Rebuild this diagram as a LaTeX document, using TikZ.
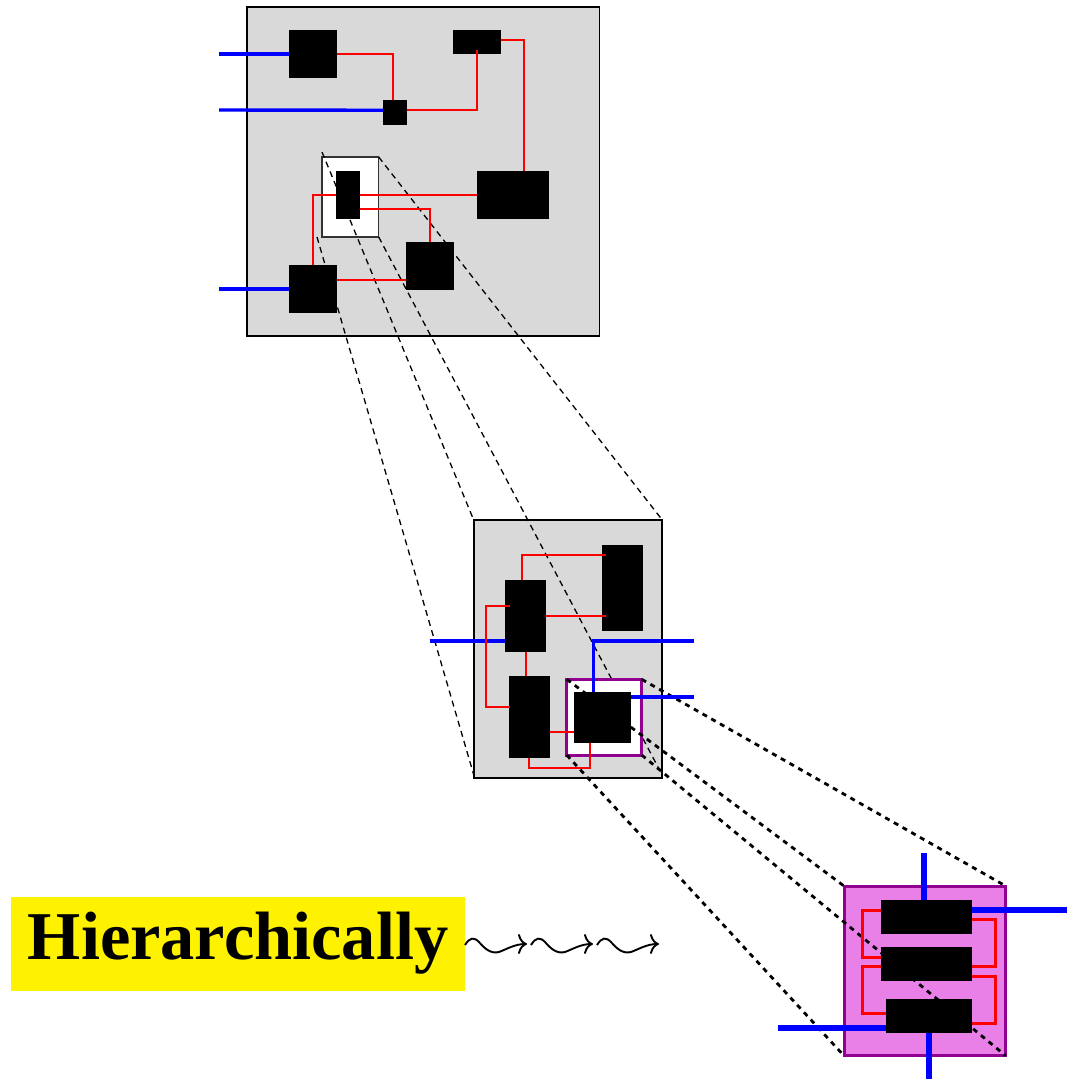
\documentclass[tikz,border=0pt]{standalone}
\usepackage{fontspec}
\setmainfont{Liberation Serif}
\usetikzlibrary{fit,arrows.meta}
\definecolor{panel}{RGB}{217,217,217}
\definecolor{hiyellow}{RGB}{255,242,0}
\definecolor{deeppurple}{RGB}{145,0,145}
\definecolor{pinkfill}{RGB}{232,128,232}
\pgfdeclarelayer{panels}
\pgfdeclarelayer{thindash}
\pgfdeclarelayer{inset}
\pgfdeclarelayer{thickdash}
\pgfdeclarelayer{underwire}
\pgfsetlayers{panels,thindash,inset,thickdash,underwire,main}
\tikzset{
  area/.style={inner sep=0pt,outer sep=0pt,rectangle},
  chip/.style={area,fill=black},
  panelbox/.style={area,draw=black,line width=1.7pt,fill=panel},
  wbox/.style={area,draw=black!80,line width=1.2pt,fill=white},
  purplebox/.style={area,draw=deeppurple,line width=3pt,fill=white},
  pinkbox/.style={area,draw=deeppurple,line width=3pt,fill=pinkfill},
  wire/.style={red,line width=1.8pt},
  fatwire/.style={red,line width=3pt},
  bus/.style={blue,line width=3.4pt},
  fatbus/.style={blue,line width=6pt},
  thinzoom/.style={black,line width=1.3pt,dash pattern=on 6pt off 4.5pt},
  thickzoom/.style={black,line width=2.8pt,dash pattern=on 5pt off 5pt},
  squig/.style={black,line width=1.9pt,-{Computer Modern Rightarrow[length=9pt,width=20pt]}}
}
\begin{document}
\begin{tikzpicture}[x=1pt,y=-1pt]
\useasboundingbox (0,0) rectangle (1067,1080);
% ---- top level
\begin{pgfonlayer}{panels}
  \node[panelbox,fit={(246.7,6.7)(599.5,335.7)}] (top) {};
  \node[wbox,fit={(322,157)(378.7,237)}] (tw) {};
  \node[panelbox,fit={(473.7,520)(662.3,777.7)}] (mid) {};
\end{pgfonlayer}
\node[chip,fit={(289,30)(337,78)}] (t1) {};
\node[chip,fit={(453,30)(501,54)}] (t2) {};
\node[chip,fit={(383,100)(407,124.5)}] (ts) {};
\node[chip,fit={(477,171)(548.5,219)}] (t3) {};
\node[chip,fit={(336,171)(360,219)}] (ti) {};
\node[chip,fit={(406,242)(454,290)}] (tb) {};
\node[chip,fit={(289,265)(337,313)}] (tl) {};
\coordinate (in1) at (219,54);
\coordinate (in2) at (219,110);
\coordinate (in3) at (219,289);
\draw[bus] (in1) -- (t1.west);
\draw[bus] (in2) -- ([yshift=2pt]ts.west);
\draw[bus] (in3) -- (tl.west);
\draw[wire] (t1.east) -| ([xshift=-2pt]ts.north);
\draw[wire] ([yshift=2pt]ts.east) -| ([yshift=4pt]t2.south);
\draw[wire] ([yshift=2pt]t2.east) -| ([xshift=11.25pt]t3.north);
\begin{pgfonlayer}{underwire}
  \draw[wire] (t3.west) -| (tl.north);
\end{pgfonlayer}
\draw[wire] ([yshift=-14pt]ti.east) -| (tb.north);
\draw[wire] ([yshift=9pt]tl.east) -- ([yshift=-14pt]tb.west);
% ---- zoom lines top -> middle
\begin{pgfonlayer}{thindash}
  \draw[thinzoom] ([yshift=5pt]tw.north west) -- (mid.north west);
  \draw[thinzoom] ([xshift=-5pt]tw.south west) -- ([yshift=3pt]mid.south west);
  \draw[thinzoom] (tw.north east) -- (mid.north east);
  \draw[thinzoom] (tw.south east) -- ([xshift=-4pt,yshift=10pt]mid.south east);
\end{pgfonlayer}
% ---- middle level
\begin{pgfonlayer}{inset}
  \node[purplebox,fit={(566.7,679.3)(641.7,755)}] (mw) {};
\end{pgfonlayer}
\node[chip,fit={(601.7,544.7)(642.7,631.3)}] (m1) {};
\node[chip,fit={(505,580.3)(546.3,651.7)}] (m2) {};
\node[chip,fit={(509,676.3)(550,758)}] (m3) {};
\node[chip,fit={(573.7,691.7)(630.7,742.7)}] (m4) {};
\coordinate (min) at (429.7,641);
\coordinate (mout1) at (693.7,641);
\coordinate (mout2) at (693.7,697);
\draw[bus] (min) -- (min -| m2.west);
\draw[bus] (mout1) -| ([xshift=-8.5pt]m4.north);
\draw[bus] (mout2) -- (mout2 -| m4.east);
\draw[wire] ([xshift=-4pt]m2.north) |- ([xshift=-37pt,yshift=-10.3pt]m1.north -| m1.east);
\draw[wire] (m2.east) -- ([xshift=4pt]m2.east -| m1.west);
\draw[wire] ([xshift=4.7pt,yshift=10pt]m2.west) -- ++(-24,0) |- ([xshift=0.7pt,yshift=10pt]m3.west);
\draw[wire] (m2.south) -- (m2.south |- m3.north);
\draw[wire] ([yshift=-15pt]m3.east) -- ([yshift=-15pt]m3.east -| m4.west);
\draw[wire] ([xshift=-0.5pt]m3.south) -- ++(0,10.3) -| ([xshift=-12.2pt]m4.south);
% ---- zoom lines middle -> bottom
\begin{pgfonlayer}{panels}
  \node[pinkbox,fit={(844,886)(1005.7,1055.7)}] (pk) {};
\end{pgfonlayer}
\begin{pgfonlayer}{thickdash}
  \draw[thickzoom] (mw.north west) -- (pk.north west);
  \draw[thickzoom] (mw.south west) -- (pk.south west);
  \draw[thickzoom] (mw.north east) -- (pk.north east);
  \draw[thickzoom] (mw.south east) -- (pk.south east);
\end{pgfonlayer}
% ---- bottom level
\node[chip,fit={(881,900.3)(971.7,934)}] (b1) {};
\node[chip,fit={(881,947.3)(971.7,981)}] (b2) {};
\node[chip,fit={(886,999)(971.7,1032.7)}] (b3) {};
\coordinate (bn) at (924,853.3);
\coordinate (be) at (1067,910);
\coordinate (bw) at (778.3,1027.7);
\coordinate (bs) at (928.7,1079.3);
\draw[fatbus] (bn) -- (bn |- b1.north);
\draw[fatbus] (be) -- (be -| b1.east);
\draw[fatbus] (bw) -- (bw -| b3.west);
\draw[fatbus] (bs) -- (bs |- b3.south);
\draw[fatwire] ([yshift=7pt]b1.west) -- ++(-18.3,0) |- ([yshift=6.8pt]b2.west);
\draw[fatwire] ([yshift=-2.2pt]b2.west) -- ++(-18.3,0) |- ([yshift=2.6pt]b3.west);
\draw[fatwire] ([yshift=-2.3pt]b1.east) -- ++(23.3,0) |- ([yshift=-2.3pt]b2.east);
\draw[fatwire] ([yshift=-12pt]b2.east) -- ++(23.3,0) |- ([yshift=-7.2pt]b3.east);
% ---- label
\node[area,fill=hiyellow,minimum width=454pt,minimum height=94.5pt,text height=45pt,text depth=14pt,font=\fontsize{68.4}{80}\selectfont\bfseries] (hier) at (238,944) {Hierarchically};
\foreach \sx/\nm in {465/sa,531/sb,597/sc}{
  \coordinate (\nm) at (\sx,945);
  \begin{scope}[shift={(\nm)}]
    \draw[squig] (0,0) .. controls (5,-8) and (9,-8) .. (14,-3) .. controls (20,4) and (26,9) .. (34,7) .. controls (42,4) and (50,-1) .. (62,-1);
  \end{scope}
}
\end{tikzpicture}
\end{document}
